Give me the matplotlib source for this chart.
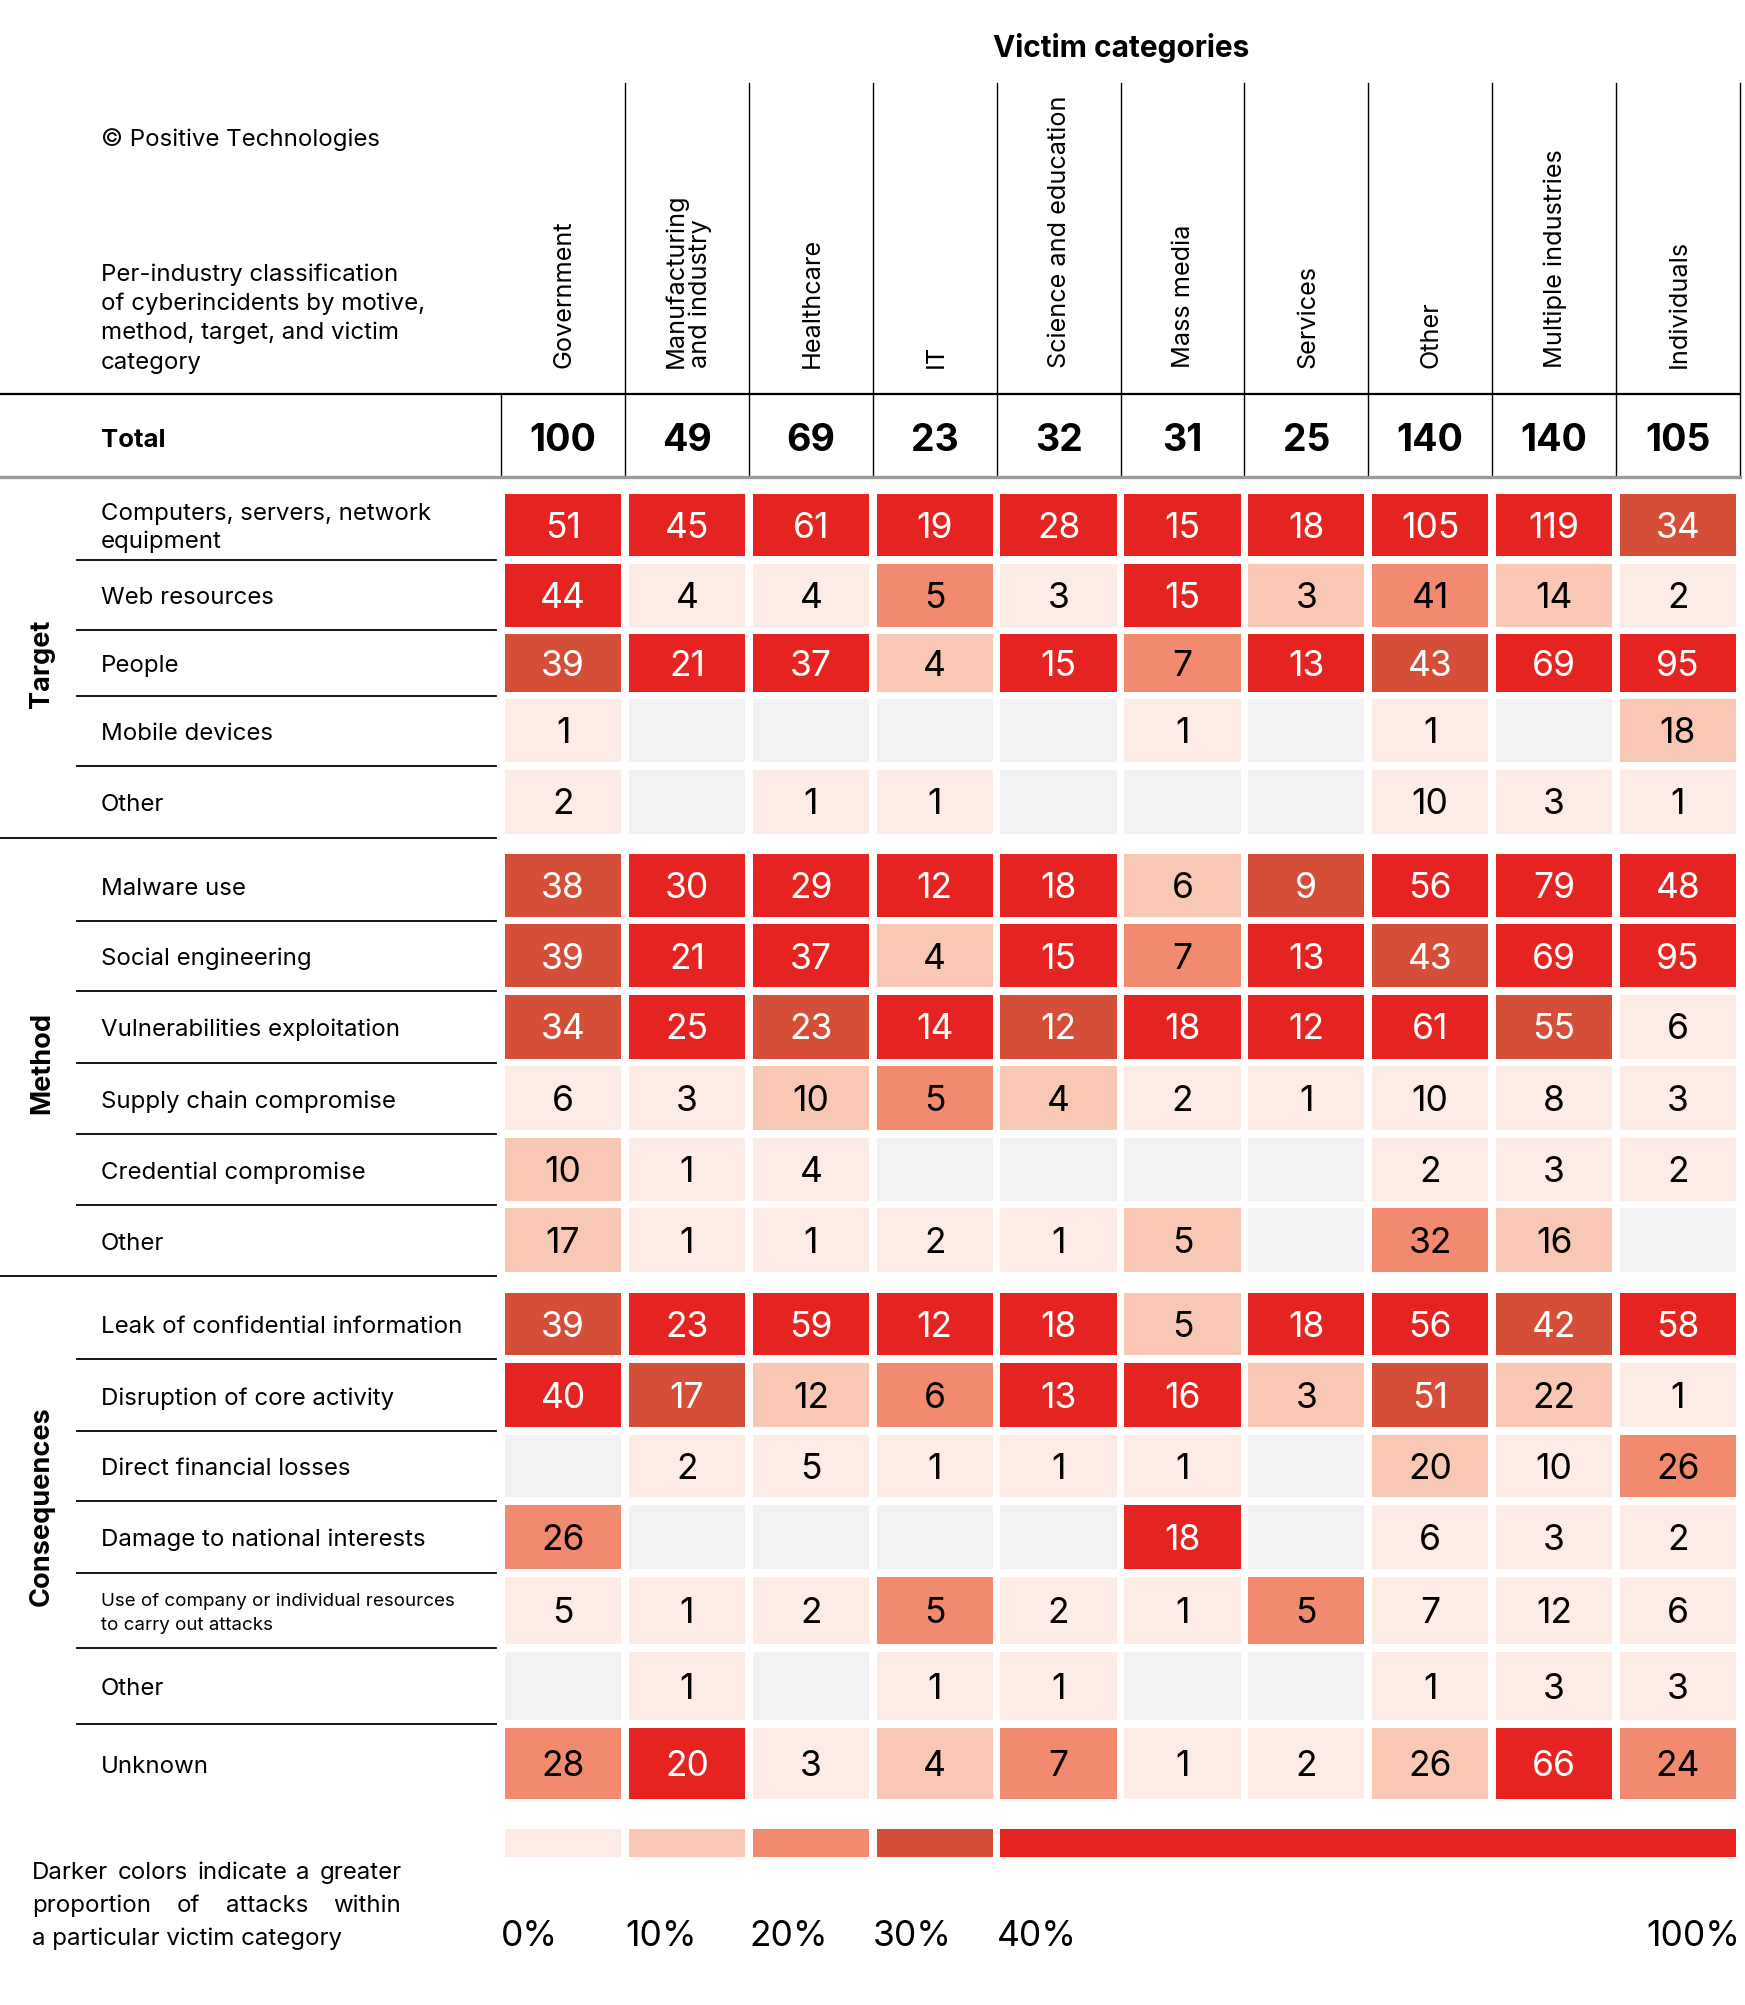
import numpy as np
import matplotlib
matplotlib.use("Agg")
import matplotlib.pyplot as plt
from matplotlib.patches import Rectangle

plt.rcParams['font.family'] = ['Inter', 'DejaVu Sans']

# ---- data ----
categories = ["Government", "Manufacturing\nand industry", "Healthcare", "IT",
              "Science and education", "Mass media", "Services", "Other",
              "Multiple industries", "Individuals"]
totals = [100, 49, 69, 23, 32, 31, 25, 140, 140, 105]

target_labels = ["Computers, servers, network\nequipment", "Web resources", "People",
                 "Mobile devices", "Other"]
target_values = [
    [51, 45, 61, 19, 28, 15, 18, 105, 119, 34],
    [44, 4, 4, 5, 3, 15, 3, 41, 14, 2],
    [39, 21, 37, 4, 15, 7, 13, 43, 69, 95],
    [1, None, None, None, None, 1, None, 1, None, 18],
    [2, None, 1, 1, None, None, None, 10, 3, 1],
]

method_labels = ["Malware use", "Social engineering", "Vulnerabilities exploitation",
                 "Supply chain compromise", "Credential compromise", "Other"]
method_values = [
    [38, 30, 29, 12, 18, 6, 9, 56, 79, 48],
    [39, 21, 37, 4, 15, 7, 13, 43, 69, 95],
    [34, 25, 23, 14, 12, 18, 12, 61, 55, 6],
    [6, 3, 10, 5, 4, 2, 1, 10, 8, 3],
    [10, 1, 4, None, None, None, None, 2, 3, 2],
    [17, 1, 1, 2, 1, 5, None, 32, 16, None],
]

conseq_labels = ["Leak of confidential information", "Disruption of core activity",
                 "Direct financial losses", "Damage to national interests",
                 "Use of company or individual resources\nto carry out attacks",
                 "Other", "Unknown"]
conseq_values = [
    [39, 23, 59, 12, 18, 5, 18, 56, 42, 58],
    [40, 17, 12, 6, 13, 16, 3, 51, 22, 1],
    [None, 2, 5, 1, 1, 1, None, 20, 10, 26],
    [26, None, None, None, None, 18, None, 6, 3, 2],
    [5, 1, 2, 5, 2, 1, 5, 7, 12, 6],
    [None, 1, None, 1, 1, None, None, 1, 3, 3],
    [28, 20, 3, 4, 7, 1, 2, 26, 66, 24],
]

section_names = ["Target", "Method", "Consequences"]
level_bounds = [0.1, 0.2, 0.3, 0.4]
level_colors = ["#FDECE6", "#F8C8B5", "#F18A6E", "#D44E38", "#E52421"]
empty_color = "#F2F2F4"
legend_ticks = ["0%", "10%", "20%", "30%", "40%", "100%"]
legend_cols = [0, 1, 2, 3, 4, 10]

# ---- layout (in drawing units, figure = W x H) ----
W, H = 1365, 1568
X0, COL_W, PAD = 392, 96.9, 3
LABEL_X = 79
DY = 2.5  # Inter sits a little high with va='center'
FS = 17.3
section_edges = [
    [383, 438, 493, 544, 599, 655],
    [665, 720, 775, 831, 887, 942, 998],
    [1008, 1063, 1119, 1174, 1230, 1289, 1348, 1410],
]
section_label_y = [519, 831, 1178]

fig = plt.figure(figsize=(17.45, 20.05), dpi=100)
ax = fig.add_axes([0, 0, 1, 1])
ax.set_xlim(0, W)
ax.set_ylim(H, 0)
ax.axis('off')
px_per_unit = 1745 / W


def color_for(v, total):
    if v is None:
        return empty_color
    frac = v / total + 1e-9
    return level_colors[int(np.searchsorted(level_bounds, frac, side='right'))]


def col_left(c):
    return X0 + c * COL_W


# header
ax.text(877, 35 + DY, "Victim categories", ha='center', va='center', fontsize=21.5,
        fontweight='bold')
ax.text(LABEL_X, 107 + DY, "\u00a9 Positive Technologies", ha='left', va='center',
        fontsize=FS)
desc = ["Per-industry classification", "of cyberincidents by motive,",
        "method, target, and victim", "category"]
for i, line in enumerate(desc):
    ax.text(LABEL_X, 212 + DY + i * 23, line, ha='left', va='center', fontsize=FS)

for c, name in enumerate(categories):
    xc = col_left(c) + COL_W / 2
    lines = name.split("\n")
    n = len(lines)
    for i, line in enumerate(lines):
        ax.text(xc + (i - (n - 1) / 2) * 19 + 1, 288, line, rotation=90, ha='center',
                va='bottom', fontsize=18.2)
    ax.plot([col_left(c + 1)] * 2, [65, 373], color='black', lw=1)
ax.plot([X0, X0], [308, 373], color='black', lw=1)
ax.plot([0, col_left(10)], [308, 308], color='black', lw=1.6)
ax.plot([0, col_left(10)], [373, 373], color='#9a9a9a', lw=2.4)

# totals row
ax.text(LABEL_X, 342 + DY, "Total", ha='left', va='center', fontsize=18.5,
        fontweight='bold')
for c, t in enumerate(totals):
    ax.text(col_left(c) + COL_W / 2, 342 + DY, str(t), ha='center', va='center',
            fontsize=27, fontweight='bold')

# sections
all_labels = [target_labels, method_labels, conseq_labels]
all_values = [target_values, method_values, conseq_values]
for s, (labels, values, edges) in enumerate(zip(all_labels, all_values, section_edges)):
    ax.text(33, section_label_y[s], section_names[s], rotation=90, ha='center',
            va='center', fontsize=19.5, fontweight='bold')
    for r, (label, row) in enumerate(zip(labels, values)):
        top, bot = edges[r], edges[r + 1]
        yc = (top + bot) / 2
        lines = label.split("\n")
        small = len(lines) > 1 and len(lines[0]) > 30
        fs = 13.5 if small else FS
        pitch = 19 if small else 22
        for i, line in enumerate(lines):
            ax.text(LABEL_X, yc + DY + (i - (len(lines) - 1) / 2) * pitch, line,
                    ha='left', va='center', fontsize=fs)
        if r > 0:
            ax.plot([60, 388], [top, top], color='black', lw=1.3)
        for c, v in enumerate(row):
            col = color_for(v, totals[c])
            ax.add_patch(Rectangle((col_left(c) + PAD, top + PAD), COL_W - 2 * PAD,
                                   bot - top - 2 * PAD, facecolor=col, edgecolor='none'))
            if v is not None:
                frac = v / totals[c] + 1e-9
                tc = 'white' if frac >= 0.3 else 'black'
                ax.text(col_left(c) + COL_W / 2, yc + DY, str(v), ha='center',
                        va='center', fontsize=25.5, color=tc)
    if s < 2:
        ax.plot([0, 388], [edges[-1], edges[-1]], color='black', lw=1.3)

# legend
for i, col in enumerate(level_colors):
    x_a, x_b = col_left(legend_cols[i]), col_left(legend_cols[i + 1])
    ax.add_patch(Rectangle((x_a + PAD, 1430), x_b - x_a - 2 * PAD, 22,
                           facecolor=col, edgecolor='none'))
for i, (tick, c) in enumerate(zip(legend_ticks, legend_cols)):
    ha = 'right' if i == len(legend_ticks) - 1 else 'left'
    ax.text(col_left(c), 1512 + DY, tick, ha=ha, va='center', fontsize=25.5)

renderer = fig.canvas.get_renderer()


def justify(words, x0, x1, y, **kw):
    texts = [ax.text(x0, y, w, ha='left', va='center', **kw) for w in words]
    widths = [t.get_window_extent(renderer=renderer).width / px_per_unit for t in texts]
    gap = (x1 - x0 - sum(widths)) / (len(words) - 1)
    x = x0
    for t, w in zip(texts, widths):
        t.set_x(x)
        x += w + gap


legend_desc = ["Darker colors indicate a greater", "proportion of attacks within",
               "a particular victim category"]
justify(legend_desc[0].split(), 25, 314, 1462 + DY, fontsize=FS)
justify(legend_desc[1].split(), 25, 314, 1488 + DY, fontsize=FS)
ax.text(25, 1514 + DY, legend_desc[2], ha='left', va='center', fontsize=FS)

fig.savefig("out.png", dpi=100)
